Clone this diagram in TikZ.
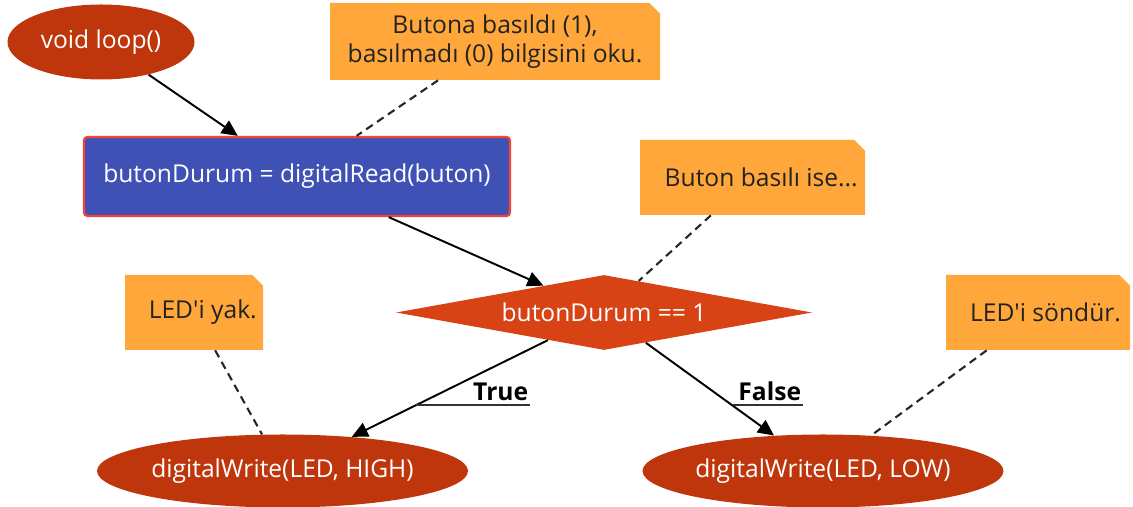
\documentclass[tikz,border=0pt]{standalone}
\usepackage{fontspec}
\setmainfont{Open Sans}
\usetikzlibrary{arrows.meta,shapes.geometric,shapes.misc}
\definecolor{loopred}{HTML}{BF360C}
\definecolor{condred}{HTML}{D84315}
\definecolor{procblue}{HTML}{3F51B5}
\definecolor{procbluee}{HTML}{F44336}
\definecolor{noteorange}{HTML}{FFA73A}
\definecolor{notetext}{HTML}{222222}

\begin{document}
\begin{tikzpicture}[
    font=\fontsize{14}{16.5}\selectfont,
    term/.style={ellipse, fill=loopred, text=white, inner sep=0pt, align=center},
    proc/.style={rectangle, rounded corners=2pt, draw=procbluee, fill=procblue, text=white, line width=1.3pt, minimum width=8.52cm, minimum height=1.58cm, align=center},
    cond/.style={diamond, fill=condred, text=white, inner sep=0pt, aspect=5.5, minimum width=8.32cm, minimum height=1.5cm},
    note/.style={chamfered rectangle, chamfered rectangle corners=north east, chamfered rectangle xsep=3pt, chamfered rectangle ysep=3pt, fill=noteorange, text=notetext, inner sep=0pt, align=center, minimum height=1.5cm},
    lbl/.style={font=\fontsize{14}{16.5}\selectfont\bfseries, inner xsep=1pt, inner ysep=2.5pt, align=right},
    fl/.style={-{Triangle[length=3.2mm, width=3mm]}, line width=1.1pt, draw=black},
    nl/.style={dashed, dash pattern=on 4.5pt off 3pt, line width=1.2pt, draw=black!85}
  ]
  \useasboundingbox (0,0) rectangle (22.66,10.14);

  \node[term, minimum width=3.74cm, minimum height=1.5cm] (loop) at (2.02, 9.30) {void loop()};
  \node[note, minimum width=6.6cm, minimum height=1.54cm] (n1) at (9.90, 9.31) {Butona basıldı (1),\\basılmadı (0) bilgisini oku.};

  \node[proc] (read) at (5.94, 6.61) {butonDurum = digitalRead(buton)};
  \node[note, minimum width=4.5cm] (n2) at (15.05, 6.59) {\hspace*{0.35cm}Buton basılı ise...};

  \node[cond] (if) at (12.08, 3.89) {butonDurum == 1};
  \node[note, minimum width=2.76cm] (n3) at (3.88, 3.89) {\hspace*{0.35cm}LED\textquotesingle i yak.};
  \node[note, minimum width=3.68cm] (n4) at (20.76, 3.89) {\hspace*{0.3cm}LED\textquotesingle i söndür.};

  \node[term, minimum width=7.42cm, minimum height=1.46cm] (high) at (5.65, 0.72) {digitalWrite(LED, HIGH)};
  \node[term, minimum width=7.2cm, minimum height=1.46cm] (low) at (16.46, 0.72) {digitalWrite(LED, LOW)};

  \node[lbl, text width=2.2cm, anchor=south west] (tl) at (8.32, 2.04) {True};
  \node[lbl, text width=1.32cm, anchor=south west] (fl) at (14.66, 2.04) {False};

  \draw[fl] (loop) -- (read);
  \draw[fl] (read) -- (if);
  \draw[fl] (if) -- (high);
  \draw[fl] (if) -- (low);
  \draw[line width=1pt, draw=black!80] (tl.south west) -- (tl.south east);
  \draw[line width=1pt, draw=black!80] (fl.south west) -- (fl.south east);

  \draw[nl] (n1) -- (read);
  \draw[nl] (n2) -- (if);
  \draw[nl] (n3) -- (high);
  \draw[nl] (n4) -- (low);
\end{tikzpicture}
\end{document}
